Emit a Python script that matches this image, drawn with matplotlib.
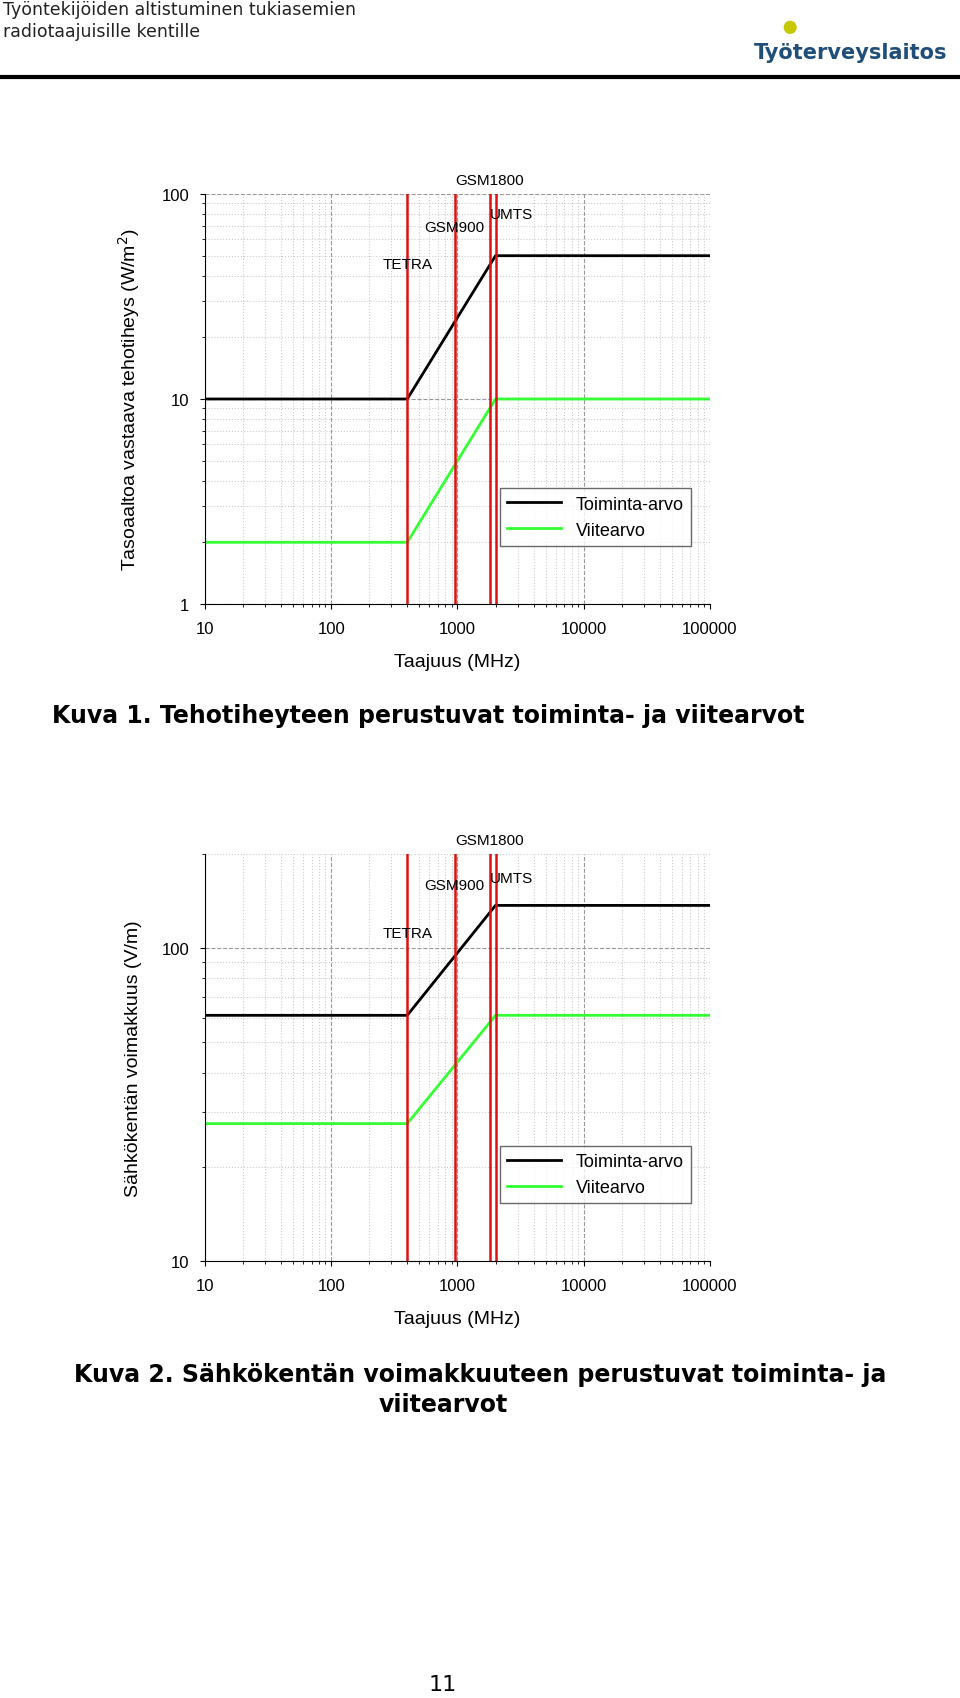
import numpy as np
import matplotlib.pyplot as plt
from matplotlib.ticker import LogLocator, NullFormatter, FixedLocator, FixedFormatter

plt.rcParams['font.family'] = 'Liberation Sans'

# data
freq = [10, 400, 2000, 100000]
power_action = [10, 10, 50, 50]
power_ref = [2, 2, 10, 10]
field_action = [61, 61, 137, 137]
field_ref = [27.5, 27.5, 61, 61]
bands = [400, 950, 1800, 2000]
band_labels = ['TETRA', 'GSM900', 'GSM1800', 'UMTS']
xticks = [10, 100, 1000, 10000, 100000]

W, H = 960, 1699
fig = plt.figure(figsize=(W / 100, H / 100), dpi=100)


def box(x0, y0, x1, y1):
    return [x0 / W, 1 - y1 / H, (x1 - x0) / W, (y1 - y0) / H]


# header
fig.text(3 / W, 1 - 10 / H, 'Työntekijöiden altistuminen tukiasemien', fontsize=12.5,
         family='DejaVu Sans', va='center', color='#222')
fig.text(3 / W, 1 - 32 / H, 'radiotaajuisille kentille', fontsize=12.5,
         family='DejaVu Sans', va='center', color='#222')
fig.text(947 / W, 1 - 53 / H, 'Työterveyslaitos', fontsize=15, fontweight='bold',
         color='#1f4e79', ha='right', va='center', family='DejaVu Sans')
fig.text(790 / W, 1 - 28 / H, '●', fontsize=22, color='#c8c800', ha='center', va='center')
fig.add_artist(plt.Line2D([0, 1], [1 - 78 / H, 1 - 78 / H], color='black', lw=3))


def chart(rect, ya, yr, ylim, yticks, ylabel, label_y):
    ax = fig.add_axes(box(*rect))
    ax.set_xscale('log')
    ax.set_yscale('log')
    ax.set_xlim(10, 100000)
    ax.set_ylim(*ylim)
    ax.plot(freq, ya, color='black', lw=2, label='Toiminta-arvo')
    ax.plot(freq, yr, color='#33ff33', lw=2, label='Viitearvo')
    for b in bands:
        ax.axvline(b, color='#dd1111', lw=1.8)
    ax.xaxis.set_major_locator(FixedLocator(xticks))
    ax.xaxis.set_major_formatter(FixedFormatter([str(t) for t in xticks]))
    ax.xaxis.set_minor_locator(LogLocator(base=10, subs=np.arange(2, 10)))
    ax.xaxis.set_minor_formatter(NullFormatter())
    ax.yaxis.set_major_locator(FixedLocator(yticks))
    ax.yaxis.set_major_formatter(FixedFormatter([str(t) for t in yticks]))
    ax.yaxis.set_minor_locator(LogLocator(base=10, subs=np.arange(2, 10)))
    ax.yaxis.set_minor_formatter(NullFormatter())
    ax.grid(which='major', color='#999', ls='--', lw=0.8)
    ax.grid(which='minor', color='#ccc', ls=':', lw=0.8)
    ax.tick_params(which='both', direction='out', labelsize=12)
    ax.tick_params(axis='x', pad=9)
    ax.tick_params(axis='y', pad=8)
    ax.set_xlabel('Taajuus (MHz)', fontsize=14, labelpad=12)
    ax.set_ylabel(ylabel, fontsize=14, labelpad=14)
    for s in ['top', 'right']:
        ax.spines[s].set_visible(False)
    for b, lab, ly in zip(bands, band_labels, label_y):
        off = {'TETRA': 1.0, 'GSM900': 1.0, 'GSM1800': 1.0, 'UMTS': 1.35}[lab]
        ax.text(b * off, ly, lab, fontsize=11, ha='center', va='center',
                transform=ax.get_xaxis_transform(), clip_on=False)
    leg = ax.legend(loc='lower right', bbox_to_anchor=(0.98, 0.12), fontsize=13,
                    frameon=True, fancybox=False, edgecolor='#444', handlelength=3)
    leg.get_frame().set_linewidth(1)
    return ax


chart((205, 195, 710, 605), power_action, power_ref, (1, 100), [1, 10, 100],
      'Tasoaaltoa vastaava tehotiheys (W/m$^2$)', [0.83, 0.92, 1.035, 0.95])
fig.text(52 / W, 1 - 716 / H, 'Kuva 1. Tehotiheyteen perustuvat toiminta- ja viitearvot',
         fontsize=17, fontweight='bold', va='center', family='DejaVu Sans')

chart((205, 855, 710, 1262), field_action, field_ref, (10, 200), [10, 100],
      'Sähkökentän voimakkuus (V/m)', [0.805, 0.925, 1.035, 0.94])
fig.text(480 / W, 1 - 1375 / H, 'Kuva 2. Sähkökentän voimakkuuteen perustuvat toiminta- ja',
         fontsize=17, fontweight='bold', ha='center', va='center', family='DejaVu Sans')
fig.text(443 / W, 1 - 1405 / H, 'viitearvot', fontsize=17, fontweight='bold',
         ha='center', va='center', family='DejaVu Sans')
fig.text(443 / W, 1 - 1685 / H, '11', fontsize=16, ha='center', va='center',
         family='DejaVu Sans')

fig.savefig('out.png', dpi=100)
